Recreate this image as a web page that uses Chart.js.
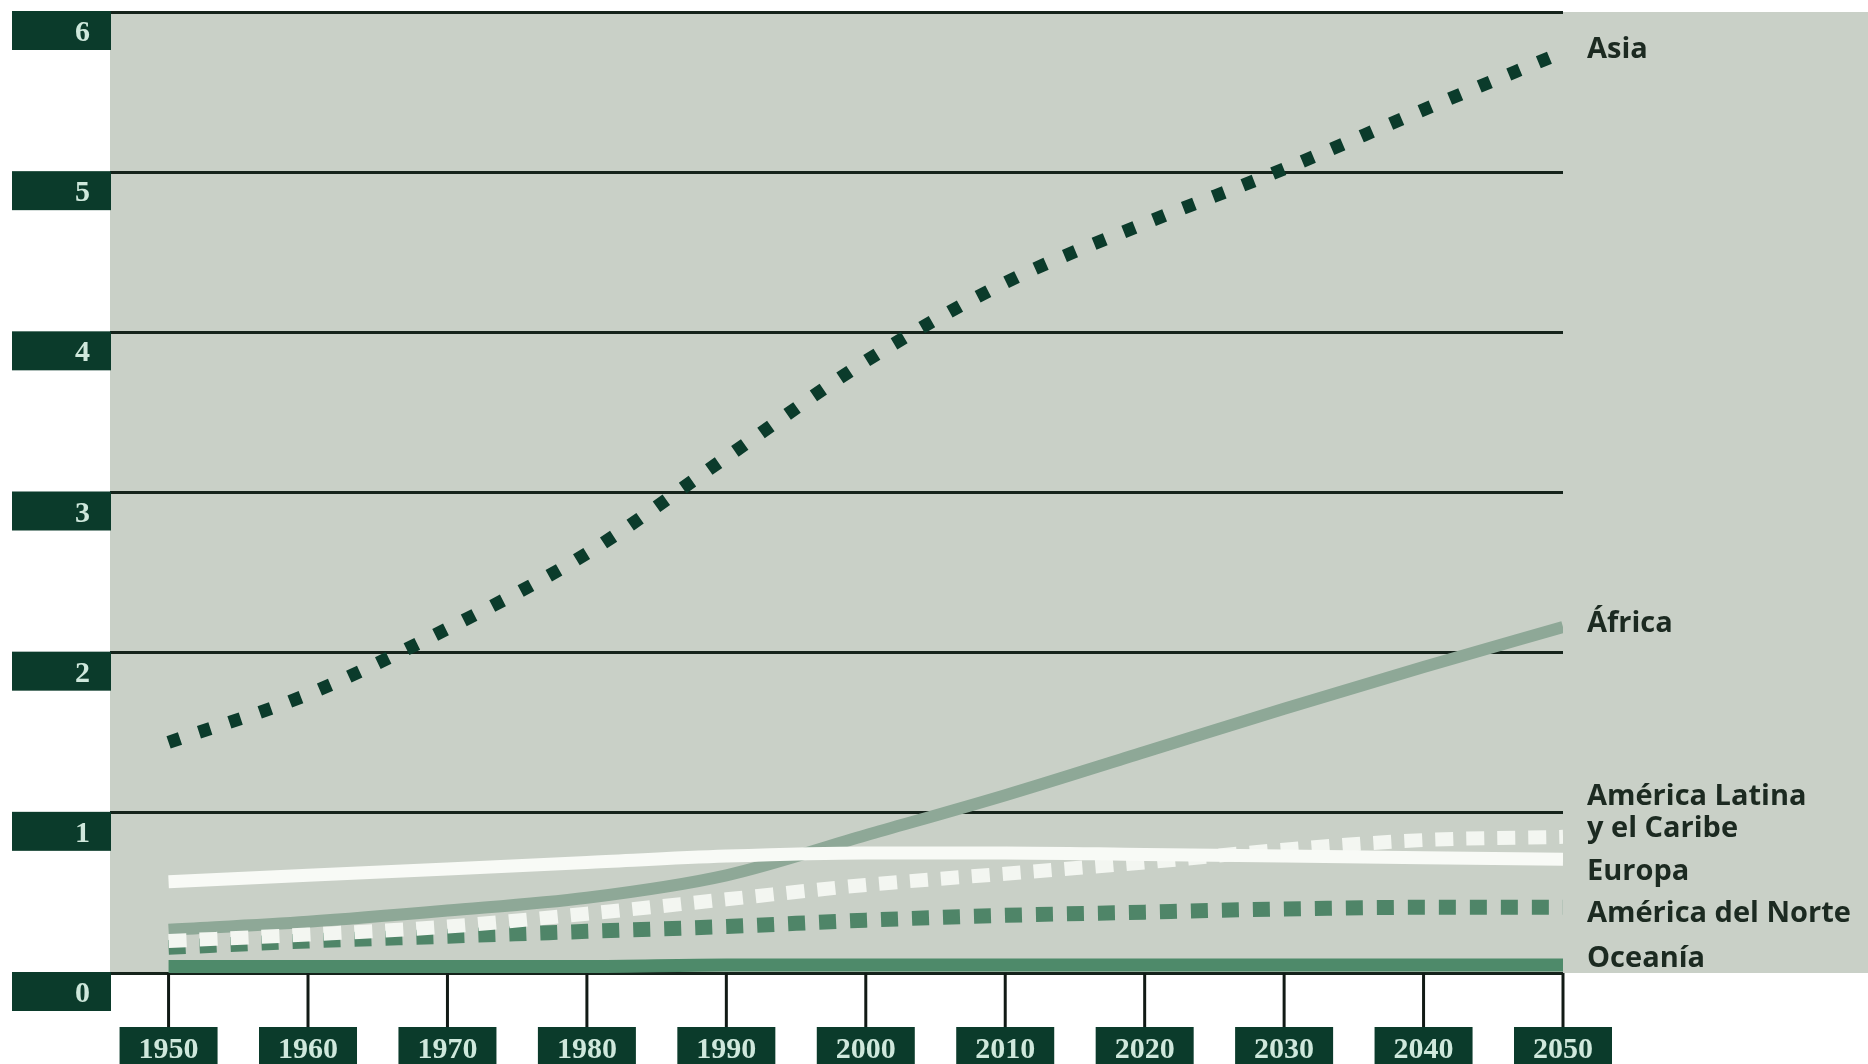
<!DOCTYPE html>
<html lang="es">
<head>
<meta charset="utf-8">
<script src="https://cdn.jsdelivr.net/npm/chart.js@4.4.1/dist/chart.umd.min.js"></script>
<style>
  html, body { margin: 0; padding: 0; background: #fff; }
  #chart { display: block; }
</style>
</head>
<body>
<canvas id="chart" width="1868" height="1064"></canvas>
<script>
// población por región, miles de millones
const years = [1950, 1960, 1970, 1980, 1990, 2000, 2010, 2020, 2030, 2040, 2050];
const asia = [1.44, 1.74, 2.15, 2.62, 3.22, 3.82, 4.31, 4.68, 5.02, 5.39, 5.75];
const africa = [0.27, 0.32, 0.39, 0.47, 0.61, 0.86, 1.11, 1.38, 1.65, 1.91, 2.16];
const latinAmerica = [0.20, 0.24, 0.29, 0.37, 0.46, 0.55, 0.62, 0.69, 0.77, 0.83, 0.85];
const europe = [0.57, 0.61, 0.65, 0.69, 0.73, 0.75, 0.75, 0.74, 0.73, 0.72, 0.71];
const northAmerica = [0.16, 0.20, 0.23, 0.26, 0.29, 0.33, 0.36, 0.38, 0.40, 0.41, 0.41];
const oceania = [0.04, 0.04, 0.04, 0.04, 0.05, 0.05, 0.05, 0.05, 0.05, 0.05, 0.05];
const yTicks = [0, 1, 2, 3, 4, 5, 6];
const xTicks = ['1950', '1960', '1970', '1980', '1990', '2000', '2010', '2020', '2030', '2040', '2050'];

const DARK = '#0b3b2b';
const TICK_TEXT = '#cfe8dc';
const PLOT_BG = '#c9d0c7';

const toPoints = (vals) => vals.map((v, i) => ({ x: years[i], y: v }));

// etiquetas a la derecha (valor de la línea base en el eje y)
const seriesLabels = [
  { text: 'Asia', at: 5.71 },
  { text: 'África', at: 2.13 },
  { text: 'América Latina', at: 1.05 },
  { text: 'y el Caribe', at: 0.85 },
  { text: 'Europa', at: 0.58 },
  { text: 'América del Norte', at: 0.32 },
  { text: 'Oceanía', at: 0.04 }
];

const decor = {
  id: 'decor',
  beforeDraw(chart) {
    const { ctx, chartArea: a, width, height } = chart;
    ctx.save();
    ctx.fillStyle = '#ffffff';
    ctx.fillRect(0, 0, width, height);
    ctx.fillStyle = PLOT_BG;
    ctx.fillRect(a.left, a.top, width - a.left, a.bottom - a.top);
    ctx.restore();
  },
  afterDraw(chart) {
    const { ctx, chartArea: a, scales } = chart;
    const xs = scales.x, ys = scales.y;
    ctx.save();

    // cajas del eje y
    ctx.font = 'bold 30px "Liberation Serif"';
    ctx.textAlign = 'right';
    ctx.textBaseline = 'alphabetic';
    yTicks.forEach(t => {
      const py = ys.getPixelForValue(t);
      ctx.fillStyle = DARK;
      ctx.fillRect(12, py - 1, a.left - 11, 39);
      ctx.fillStyle = TICK_TEXT;
      ctx.fillText(String(t), 90, py + 29);
    });

    // marcas y cajas del eje x
    ctx.textAlign = 'center';
    xTicks.forEach(lbl => {
      const px = xs.getPixelForValue(Number(lbl));
      ctx.strokeStyle = '#111a15';
      ctx.lineWidth = 3;
      ctx.beginPath();
      ctx.moveTo(px, a.bottom);
      ctx.lineTo(px, a.bottom + 54);
      ctx.stroke();
      ctx.fillStyle = DARK;
      ctx.fillRect(px - 49, a.bottom + 54, 98, 42);
      ctx.fillStyle = TICK_TEXT;
      ctx.fillText(lbl, px, a.bottom + 85);
    });

    // nombres de las series
    ctx.font = 'bold 29px "Open Sans"';
    ctx.textAlign = 'left';
    ctx.fillStyle = '#1c2a21';
    seriesLabels.forEach(l => {
      ctx.fillText(l.text, a.right + 24, ys.getPixelForValue(l.at));
    });
    ctx.restore();
  }
};

new Chart(document.getElementById('chart'), {
  type: 'line',
  data: {
    datasets: [
      { label: 'Asia', data: toPoints(asia), borderColor: '#0b3b2b', borderWidth: 13, borderDash: [12, 20] },
      { label: 'Europa', data: toPoints(europe), borderColor: '#f8faf6', borderWidth: 13 },
      { label: 'América Latina y el Caribe', data: toPoints(latinAmerica), borderColor: '#f3f6f1', borderWidth: 14, borderDash: [18, 13] },
      { label: 'América del Norte', data: toPoints(northAmerica), borderColor: '#4f8568', borderWidth: 15, borderDash: [17, 14] },
      { label: 'África', data: toPoints(africa), borderColor: '#8ea897', borderWidth: 12 },
      { label: 'Oceanía', data: toPoints(oceania), borderColor: '#4e8a6a', borderWidth: 13 }
    ]
  },
  options: {
    responsive: false,
    animation: false,
    devicePixelRatio: 1,
    layout: { padding: { left: 110, right: 305, top: 12, bottom: 91 } },
    elements: {
      point: { radius: 0, hoverRadius: 0 },
      line: { cubicInterpolationMode: 'monotone', borderCapStyle: 'butt', borderJoinStyle: 'round' }
    },
    plugins: {
      legend: { display: false },
      tooltip: { enabled: false }
    },
    scales: {
      x: { type: 'linear', min: 1945.8, max: 2050, display: false },
      y: {
        min: 0,
        max: 6,
        ticks: { display: false, stepSize: 1 },
        grid: { color: '#15231b', lineWidth: 3, drawTicks: false },
        border: { display: false }
      }
    }
  },
  plugins: [decor]
});
</script>
</body>
</html>
